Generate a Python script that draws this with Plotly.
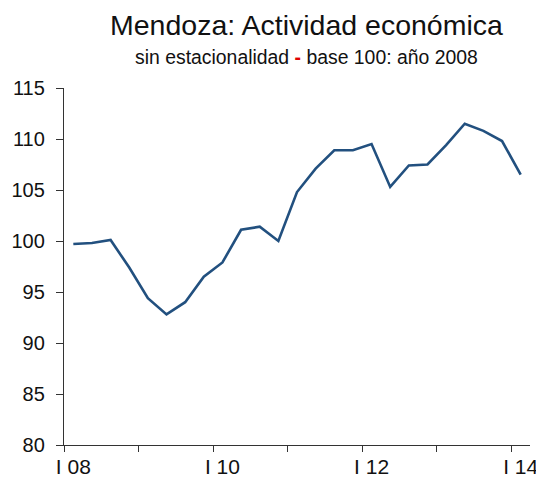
import plotly.graph_objects as go

quarters = list(range(25))  # I 08 .. I 14 (quarterly)
values = [99.7, 99.8, 100.1, 97.4, 94.4, 92.8, 94.0, 96.5, 97.9, 101.1, 101.4, 100.0,
          104.8, 107.1, 108.9, 108.9, 109.5, 105.3, 107.4, 107.5, 109.4, 111.5, 110.8,
          109.8, 106.5]
label_pos = [0, 8, 16, 24]
label_text = ["I 08", "I 10", "I 12", "I 14"]
year_bounds = [-0.5, 3.5, 7.5, 11.5, 15.5, 19.5, 23.5]
y_ticks = [80, 85, 90, 95, 100, 105, 110, 115]

FONT = "Liberation Sans, Arial, sans-serif"

fig = go.Figure()
fig.add_trace(go.Scatter(x=quarters, y=values, mode="lines",
                         line=dict(color="#22507f", width=2.6), showlegend=False))

# page body has an 8px margin, so the figure is sized 8px smaller
fig.update_layout(
    width=536, height=475,
    margin=dict(l=56, r=14, t=80, b=38),
    paper_bgcolor="white", plot_bgcolor="white",
    font=dict(family=FONT, color="#111111"),
    xaxis=dict(range=[-0.5, 24.5], tickvals=label_pos, ticktext=label_text,
               ticks="outside", ticklen=0, tickfont=dict(size=21), automargin=False,
               ticklabelstandoff=3,
               showline=True, linecolor="#333333", linewidth=1.3,
               showgrid=False, zeroline=False,
               minor=dict(tickvals=year_bounds, ticks="outside", ticklen=6,
                          tickcolor="#333333", tickwidth=1, showgrid=False)),
    yaxis=dict(range=[80, 115], tickvals=y_ticks, ticks="outside", ticklen=7,
               tickcolor="#333333", tickwidth=1, tickfont=dict(size=20), automargin=False,
               ticklabelstandoff=7,
               showline=True, linecolor="#333333", linewidth=1.3,
               showgrid=False, zeroline=False),
    annotations=[
        dict(text="Mendoza: Actividad económica", xref="paper", yref="paper",
             x=0.521, y=1.176, xanchor="center", yanchor="middle", showarrow=False,
             font=dict(size=28.5, family=FONT, color="#111111")),
        dict(text='sin estacionalidad <span style="color:#e00000"><b>-</b></span> base 100: año 2008',
             xref="paper", yref="paper", x=0.521, y=1.087, xanchor="center",
             yanchor="middle", showarrow=False,
             font=dict(size=19.4, family=FONT, color="#111111")),
    ],
)

fig.write_html("out.html")
